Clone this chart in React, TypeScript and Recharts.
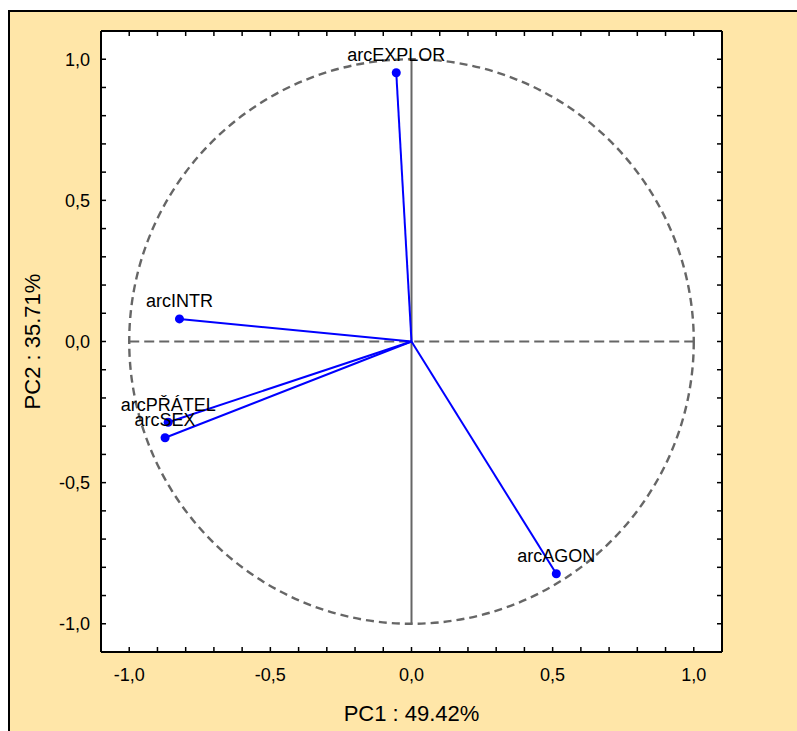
import {
  ScatterChart,
  Scatter,
  XAxis,
  YAxis,
  ZAxis,
  CartesianGrid,
  ReferenceLine,
  ReferenceArea,
  LabelList,
} from 'recharts';

// loadings of each variable on the first two components
const variables = ['arcEXPLOR', 'arcINTR', 'arcPŘÁTEL', 'arcSEX', 'arcAGON'];
const pc1 = [-0.054, -0.822, -0.862, -0.873, 0.513];
const pc2 = [0.952, 0.08, -0.286, -0.341, -0.823];

const axisTicks = [
  -1.0, -0.9, -0.8, -0.7, -0.6, -0.5, -0.4, -0.3, -0.2, -0.1, 0.0, 0.1, 0.2, 0.3, 0.4, 0.5, 0.6, 0.7, 0.8,
  0.9, 1.0,
];
const majorTicks = [-1.0, -0.5, 0.0, 0.5, 1.0];

const xTitle = 'PC1 : 49.42%';
const yTitle = 'PC2 : 35.71%';

const points = variables.map((name, i) => ({ name, x: pc1[i], y: pc2[i] }));

const font = 'Arial, "Liberation Sans", sans-serif';
const blue = '#0000FF';
const grey = '#666666';
const TICK = 5;

const fmt = (v: number) => v.toFixed(1).replace('.', ',');
const isMajor = (v: number) => majorTicks.some((m) => Math.abs(m - v) < 1e-6);

const makeTick = (side: 'bottom' | 'top' | 'left' | 'right') => (props: any) => {
  const { x, y, payload } = props;
  const v = payload.value as number;
  let line;
  if (side === 'bottom') line = <line x1={x} y1={y} x2={x} y2={y - TICK} stroke='#000' strokeWidth={1.5} />;
  else if (side === 'top') line = <line x1={x} y1={y} x2={x} y2={y + TICK} stroke='#000' strokeWidth={1.5} />;
  else if (side === 'left') line = <line x1={x} y1={y} x2={x + TICK} y2={y} stroke='#000' strokeWidth={1.5} />;
  else line = <line x1={x} y1={y} x2={x - TICK} y2={y} stroke='#000' strokeWidth={1.5} />;

  let label = null;
  if (isMajor(v) && side === 'bottom')
    label = (
      <text x={x} y={y + 29} textAnchor='middle' fontSize={18} fontFamily={font} fill='#000'>
        {fmt(v)}
      </text>
    );
  if (isMajor(v) && side === 'left')
    label = (
      <text x={x - 11} y={y} dy='0.36em' textAnchor='end' fontSize={18} fontFamily={font} fill='#000'>
        {fmt(v)}
      </text>
    );
  return (
    <g>
      {line}
      {label}
    </g>
  );
};

const UnitCircle = (props: any) => {
  const { x, y, width, height } = props;
  return (
    <ellipse
      cx={x + width / 2}
      cy={y + height / 2}
      rx={width / 2}
      ry={height / 2}
      fill='none'
      stroke={grey}
      strokeWidth={2.4}
      strokeDasharray='8 5'
    />
  );
};

const axisLine = { stroke: '#000', strokeWidth: 2 };

export default function App() {
  return (
    <div
      style={{
        position: 'fixed',
        left: 8,
        top: 10,
        right: 0,
        bottom: 0,
        overflow: 'hidden',
        background: '#FFE6A8',
        borderTop: '2px solid #000',
        borderLeft: '2px solid #000',
      }}
    >
      <ScatterChart width={760} height={719} margin={{ top: 18, right: 47, bottom: 0, left: 0 }}>
        <CartesianGrid fill='#fff' horizontal={false} vertical={false} />
        <XAxis
          type='number'
          dataKey='x'
          domain={[-1.1, 1.1]}
          ticks={axisTicks}
          interval={0}
          height={79}
          tickSize={0}
          tickMargin={0}
          tickLine={false}
          axisLine={axisLine}
          tick={makeTick('bottom')}
          label={{
            value: xTitle,
            position: 'insideBottom',
            offset: 10,
            fontSize: 22,
            fontFamily: font,
            fill: '#000',
          }}
        />
        <XAxis
          xAxisId='top'
          orientation='top'
          type='number'
          dataKey='x'
          domain={[-1.1, 1.1]}
          ticks={axisTicks}
          interval={0}
          height={1}
          tickSize={0}
          tickMargin={0}
          tickLine={false}
          axisLine={axisLine}
          tick={makeTick('top')}
        />
        <YAxis
          type='number'
          dataKey='y'
          domain={[-1.1, 1.1]}
          ticks={axisTicks}
          interval={0}
          width={91}
          tickSize={0}
          tickMargin={0}
          tickLine={false}
          axisLine={axisLine}
          tick={makeTick('left')}
          label={{
            value: yTitle,
            angle: -90,
            position: 'insideLeft',
            offset: 22,
            fontSize: 22,
            fontFamily: font,
            fill: '#000',
            style: { textAnchor: 'middle' },
          }}
        />
        <YAxis
          yAxisId='right'
          orientation='right'
          type='number'
          dataKey='y'
          domain={[-1.1, 1.1]}
          ticks={axisTicks}
          interval={0}
          width={1}
          tickSize={0}
          tickMargin={0}
          tickLine={false}
          axisLine={axisLine}
          tick={makeTick('right')}
        />
        <ZAxis range={[78.5, 78.5]} />
        <ZAxis zAxisId='mirror' range={[78.5, 78.5]} />
        <ReferenceArea x1={-1} x2={1} y1={-1} y2={1} shape={UnitCircle} />
        <ReferenceLine
          segment={[
            { x: -1, y: 0 },
            { x: 1, y: 0 },
          ]}
          stroke={grey}
          strokeWidth={2}
          strokeDasharray='10 5'
        />
        <ReferenceLine
          segment={[
            { x: 0, y: -1 },
            { x: 0, y: 1 },
          ]}
          stroke={grey}
          strokeWidth={2}
        />
        {points.map((p) => (
          <ReferenceLine
            key={p.name}
            segment={[
              { x: 0, y: 0 },
              { x: p.x, y: p.y },
            ]}
            stroke={blue}
            strokeWidth={2}
          />
        ))}
        {/* invisible copy so the top and right frame axes get their ticks */}
        <Scatter
          data={points}
          xAxisId='top'
          yAxisId='right'
          zAxisId='mirror'
          shape={() => <g />}
          isAnimationActive={false}
        />
        <Scatter data={points} fill={blue} isAnimationActive={false}>
          <LabelList dataKey='name' position='top' offset={7} fontSize={18} fontFamily={font} fill='#000' />
        </Scatter>
      </ScatterChart>
    </div>
  );
}
